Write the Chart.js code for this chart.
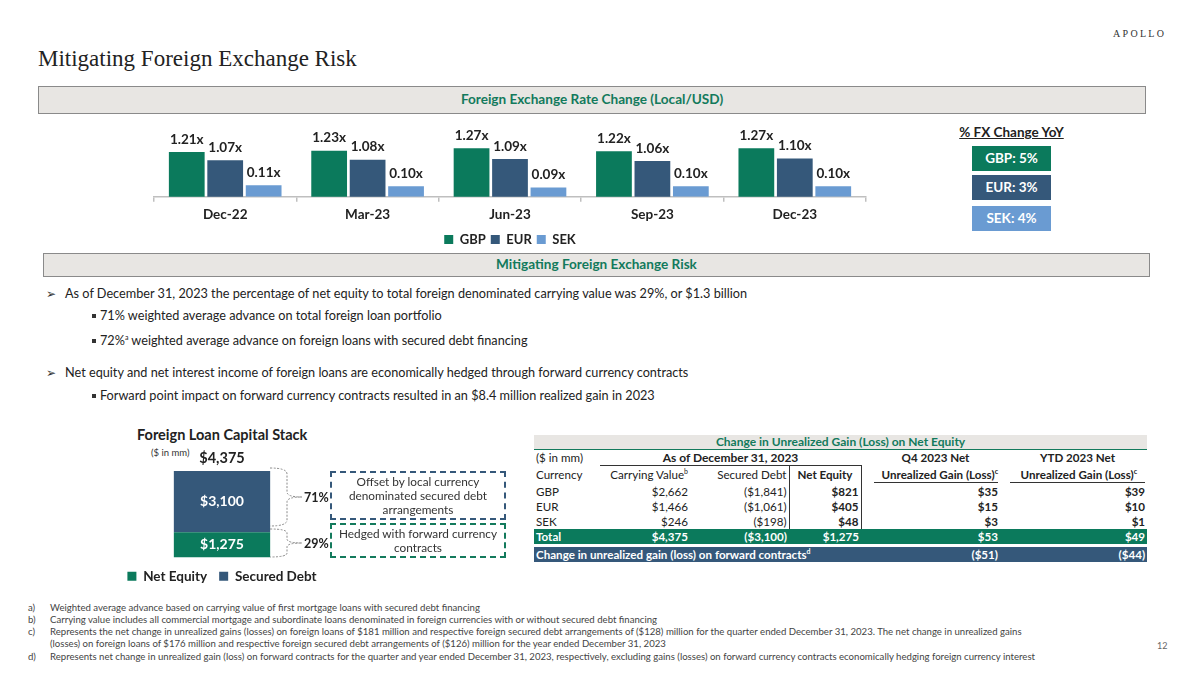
<!DOCTYPE html>
<html>
<head>
<meta charset="utf-8">
<script src="https://cdn.jsdelivr.net/npm/chart.js@4.4.1/dist/chart.umd.min.js"></script>
<style>
  body { margin: 0; background: #fff; }
  #page { position: relative; width: 1200px; height: 675px; overflow: hidden; font-family: Lato, sans-serif; color: #222; }
  .abs { position: absolute; }
  .band { position: absolute; background: #e8e6e3; border: 1.5px solid #8a8a8a; box-sizing: border-box;
          color: #137a5c; font-weight: bold; font-size: 13.6px; text-align: center; }
  .fxbox { position: absolute; left: 972px; width: 79px; height: 25px; line-height: 25px; color: #fff;
           font-weight: bold; font-size: 13.5px; text-align: center; }
  .bl { position: absolute; font-size: 12.7px; white-space: nowrap; line-height: 16px; }
  .bl .mk { display: inline-block; width: 19px; font-family: "DejaVu Sans"; font-size: 12px; color: #333; }
  .bl .sq { display: inline-block; width: 4px; height: 4px; background: #333; margin: 0 4px 2px 0; vertical-align: middle; }
  sup { font-size: 7px; line-height: 0; vertical-align: 5px; }
  .dbox { position: absolute; left: 330px; width: 176px; box-sizing: border-box; font-size: 11.8px;
          color: #333; text-align: center; display: flex; align-items: center; justify-content: center; line-height: 14px; }
  table { position: absolute; left: 534px; top: 435px; width: 613px; border-collapse: collapse; table-layout: fixed; font-size: 11.6px; }
  td { padding: 0 2px; height: 15px; line-height: 15px; white-space: nowrap; overflow: visible; }
  .r { text-align: right; }
  .c { text-align: center; }
  .b { font-weight: bold; }
  .fn { position: absolute; left: 28px; font-size: 9.6px; color: #444; white-space: nowrap; line-height: 12px; }
  .fn span { display: inline-block; width: 22px; }
</style>
</head>
<body>
<div id="page">
  <div class="abs" style="left:38px;top:46px;font-family:'Liberation Serif',serif;font-size:23px;color:#222;">Mitigating Foreign Exchange Risk</div>
  <div class="abs" style="left:1113px;top:28px;font-family:'Liberation Serif',serif;font-size:10px;letter-spacing:2.3px;color:#333;">APOLLO</div>

  <div class="band" style="left:38px;top:86px;width:1108px;height:28px;line-height:25px;">Foreign Exchange Rate Change (Local/USD)</div>

  <div class="abs" style="left:140px;top:121px;width:730px;height:135px;"><canvas id="fxChart"></canvas></div>

  <div class="abs" style="left:955px;top:124px;width:113px;text-align:center;font-weight:bold;font-size:13.5px;text-decoration:underline;">% FX Change YoY</div>
  <div id="fxBoxes"></div>

  <div class="band" style="left:43px;top:253px;width:1107px;height:24px;line-height:21px;">Mitigating Foreign Exchange Risk</div>

  <div class="bl" style="left:46px;top:285px;"><span class="mk">&#10146;</span>As of December 31, 2023 the percentage of net equity to total foreign denominated carrying value was 29%, or $1.3 billion</div>
  <div class="bl" style="left:92px;top:307px;"><span class="sq"></span>71% weighted average advance on total foreign loan portfolio</div>
  <div class="bl" style="left:92px;top:332px;"><span class="sq"></span>72%<sup>a</sup> weighted average advance on foreign loans with secured debt financing</div>
  <div class="bl" style="left:46px;top:364px;"><span class="mk">&#10146;</span>Net equity and net interest income of foreign loans are economically hedged through forward currency contracts</div>
  <div class="bl" style="left:92px;top:387px;"><span class="sq"></span>Forward point impact on forward currency contracts resulted in an $8.4 million realized gain in 2023</div>

  <div class="abs" style="left:137px;top:426px;font-weight:bold;font-size:14.5px;">Foreign Loan Capital Stack</div>
  <div class="abs" style="left:151px;top:447px;font-size:9.5px;color:#333;">($ in mm)</div>
  <div class="abs" style="left:110px;top:440px;width:224px;height:153px;"><canvas id="stackChart"></canvas></div>

  <svg class="abs" style="left:260px;top:460px;" width="70" height="105">
    <g fill="none" stroke="#8a8a8a" stroke-width="1" stroke-dasharray="2 1.5">
      <path d="M10 8 Q27 8 27 14 L27 32 Q27 37 42 37 Q27 37 27 42 L27 60 Q27 66 10 66"/>
      <path d="M10 69 Q27 69 27 73 L27 79 Q27 83 42 83 Q27 83 27 87 L27 93 Q27 97 10 97"/>
    </g>
    <text x="44" y="42" font-family="Lato" font-weight="bold" font-size="12.5" fill="#222">71%</text>
    <text x="44" y="88" font-family="Lato" font-weight="bold" font-size="12.5" fill="#222">29%</text>
  </svg>
  <div class="dbox" style="top:471px;height:49px;border:2px dashed #35587a;">Offset by local currency<br>denominated secured debt<br>arrangements</div>
  <div class="dbox" style="top:523px;height:35px;border:2px dashed #137a5c;">Hedged with forward currency<br>contracts</div>

  <table id="gainTable"></table>

  <div id="notes"></div>
  <div class="abs" style="left:1157px;top:640px;font-size:9px;color:#666;">12</div>
</div>

<script>
// bar chart data
const periods = ['Dec-22', 'Mar-23', 'Jun-23', 'Sep-23', 'Dec-23'];
const gbpRate = [1.21, 1.23, 1.27, 1.22, 1.27];
const eurRate = [1.07, 1.08, 1.09, 1.06, 1.10];
const sekRate = [0.11, 0.10, 0.09, 0.10, 0.10];
const fxChangeYoY = ['GBP: 5%', 'EUR: 3%', 'SEK: 4%'];

// capital stack
const stackNames = ['Net Equity', 'Secured Debt'];
const stackValues = [1275, 3100];

// table
const currencies = ['GBP', 'EUR', 'SEK'];
const carryingValue = [2662, 1466, 246];
const securedDebt = [-1841, -1061, -198];
const netEquity = [821, 405, 48];
const q4Gain = [35, 15, 3];
const ytdGain = [39, 10, 1];
const totalRow = [4375, -3100, 1275, 53, 49];
const forwardContracts = [-51, -44];

const notes = [
  ['a)', 'Weighted average advance based on carrying value of first mortgage loans with secured debt financing'],
  ['b)', 'Carrying value includes all commercial mortgage and subordinate loans denominated in foreign currencies with or without secured debt financing'],
  ['c)', 'Represents the net change in unrealized gains (losses) on foreign loans of $181 million and respective foreign secured debt arrangements of ($128) million for the quarter ended December 31, 2023. The net change in unrealized gains'],
  ['', '(losses) on foreign loans of $176 million and respective foreign secured debt arrangements of ($126) million for the year ended December 31, 2023'],
  ['d)', 'Represents net change in unrealized gain (loss) on forward contracts for the quarter and year ended December 31, 2023, respectively, excluding gains (losses) on forward currency contracts economically hedging foreign currency interest']
];

const GREEN = '#0b7a5c', NAVY = '#35587a', LIGHT = '#6a9bd2';

function money(v) {
  const s = '$' + Math.abs(v).toLocaleString('en-US');
  return v < 0 ? '(' + s + ')' : s;
}

// fx change boxes
const boxColors = [GREEN, NAVY, LIGHT];
const boxTops = [146, 175, 206];
document.getElementById('fxBoxes').innerHTML = fxChangeYoY.map((t, i) =>
  '<div class="fxbox" style="top:' + boxTops[i] + 'px;background:' + boxColors[i] + '">' + t + '</div>').join('');

// table
let html = '<colgroup><col style="width:66px"><col style="width:90px"><col style="width:99px"><col style="width:72px"><col style="width:139px"><col style="width:147px"></colgroup>';
html += '<tr><td colspan="6" class="c b" style="background:#e8e6e3;color:#137a5c;border-bottom:1px solid #137a5c;height:14px;line-height:14px;font-size:12px;">Change in Unrealized Gain (Loss) on Net Equity</td></tr>';
html += '<tr><td>($ in mm)</td><td colspan="3" class="c b" style="border-bottom:1px solid #333;font-size:12px;">As of December 31, 2023</td><td class="c b" style="padding-left:12px">Q4 2023 Net</td><td class="c b" style="padding-left:10px">YTD 2023 Net</td></tr>';
html += '<tr style="height:18px"><td>Currency</td><td class="r">Carrying Value<sup>b</sup></td><td class="r">Secured Debt</td>' +
  '<td class="c b" style="border-left:1px solid #333;border-right:1px solid #333;">Net Equity</td>' +
  '<td class="r b"><div style="margin-left:10px;border-bottom:1px solid #333;">Unrealized Gain (Loss)<sup>c</sup></div></td>' +
  '<td class="r b"><div style="margin-left:8px;border-bottom:1px solid #333;padding-right:8px">Unrealized Gain (Loss)<sup>c</sup></div></td></tr>';
currencies.forEach((c, i) => {
  html += '<tr><td>' + c + '</td><td class="r">' + money(carryingValue[i]) + '</td><td class="r">' + money(securedDebt[i]) + '</td>' +
    '<td class="r b" style="border-left:1px solid #333;border-right:1px solid #333;">' + money(netEquity[i]) + '</td>' +
    '<td class="r b">' + money(q4Gain[i]) + '</td><td class="r b">' + money(ytdGain[i]) + '</td></tr>';
});
html += '<tr class="b" style="background:' + GREEN + ';color:#fff"><td>Total</td>' + totalRow.map(v => '<td class="r">' + money(v) + '</td>').join('') + '</tr>';
html += '<tr><td colspan="6" style="height:3px;line-height:3px"></td></tr>';
html += '<tr class="b" style="background:' + NAVY + ';color:#fff"><td colspan="4">Change in unrealized gain (loss) on forward contracts<sup>d</sup></td>' +
  forwardContracts.map(v => '<td class="r">' + money(v) + '</td>').join('') + '</tr>';
document.getElementById('gainTable').innerHTML = html;

// footnotes
const noteTops = [602, 614, 626, 638, 651];
document.getElementById('notes').innerHTML = notes.map((n, i) =>
  '<div class="fn" style="top:' + noteTops[i] + 'px"><span>' + n[0] + '</span>' + n[1] + '</div>').join('');

// value labels on top of the bars
const barLabels = {
  id: 'barLabels',
  afterDatasetsDraw(chart) {
    const ctx = chart.ctx;
    ctx.save();
    ctx.font = 'bold 13.5px Lato';
    ctx.fillStyle = '#222';
    ctx.textAlign = 'center';
    ctx.textBaseline = 'bottom';
    chart.data.datasets.forEach((ds, i) => {
      chart.getDatasetMeta(i).data.forEach((el, j) => {
        ctx.fillText(ds.data[j].toFixed(2) + 'x', el.x, el.y - 6);
      });
    });
    ctx.restore();
  }
};

// labels inside the stack + total on top
const stackLabels = {
  id: 'stackLabels',
  afterDatasetsDraw(chart) {
    const ctx = chart.ctx;
    ctx.save();
    ctx.font = 'bold 14px Lato';
    ctx.textAlign = 'center';
    ctx.textBaseline = 'middle';
    let top = null, total = 0;
    chart.data.datasets.forEach((ds, i) => {
      chart.getDatasetMeta(i).data.forEach((el, j) => {
        ctx.fillStyle = '#fff';
        ctx.fillText(money(ds.data[j]), el.x, (el.y + el.base) / 2);
        total += ds.data[j];
        top = el;
      });
    });
    ctx.fillStyle = '#222';
    ctx.font = 'bold 14.5px Lato';
    ctx.fillText(money(total), top.x, top.y - 13);
    ctx.restore();
  }
};

Chart.defaults.font.family = 'Lato';
Chart.defaults.color = '#222';

document.fonts.load('bold 13px Lato').then(() => {
  new Chart(document.getElementById('fxChart'), {
    type: 'bar',
    data: {
      labels: periods,
      datasets: [
        { label: 'GBP', data: gbpRate, backgroundColor: GREEN, yAxisID: 'y' },
        { label: 'EUR', data: eurRate, backgroundColor: NAVY, yAxisID: 'y' },
        { label: 'SEK', data: sekRate, backgroundColor: LIGHT, yAxisID: 'y2' }
      ]
    },
    options: {
      responsive: true,
      maintainAspectRatio: false,
      animation: false,
      categoryPercentage: 0.81,
      barPercentage: 0.93,
      layout: { padding: { top: 6, left: 14, right: 4, bottom: 0 } },
      scales: {
        x: {
          grid: { display: true, drawOnChartArea: false, drawTicks: true, tickLength: 5, color: '#bfbfbf', lineWidth: 1.5 },
          border: { display: true, color: '#bfbfbf', width: 1.5 },
          ticks: { font: { size: 13.5, weight: 'bold' }, color: '#222', padding: 5 }
        },
        y: { display: false, min: 0.46, max: 1.627 },
        y2: { display: false, min: 0, max: 0.667 }
      },
      plugins: {
        legend: { position: 'bottom', labels: { boxWidth: 9, boxHeight: 9, font: { size: 13, weight: 'bold' }, color: '#222', padding: 5 } },
        tooltip: { enabled: false }
      }
    },
    plugins: [barLabels]
  });

  new Chart(document.getElementById('stackChart'), {
    type: 'bar',
    data: {
      labels: [''],
      datasets: [
        { label: stackNames[0], data: [stackValues[0]], backgroundColor: GREEN },
        { label: stackNames[1], data: [stackValues[1]], backgroundColor: NAVY }
      ]
    },
    options: {
      responsive: true,
      maintainAspectRatio: false,
      animation: false,
      categoryPercentage: 1,
      barPercentage: 0.43,
      layout: { padding: { top: 31, left: 0, right: 0, bottom: 0 } },
      scales: {
        x: { display: false, stacked: true },
        y: { display: false, stacked: true, min: 0, max: 4375 }
      },
      plugins: {
        legend: { position: 'bottom', labels: { boxWidth: 9, boxHeight: 9, font: { size: 13.5, weight: 'bold' }, color: '#222', padding: 12 } },
        tooltip: { enabled: false }
      }
    },
    plugins: [stackLabels]
  });
});
</script>
</body>
</html>
